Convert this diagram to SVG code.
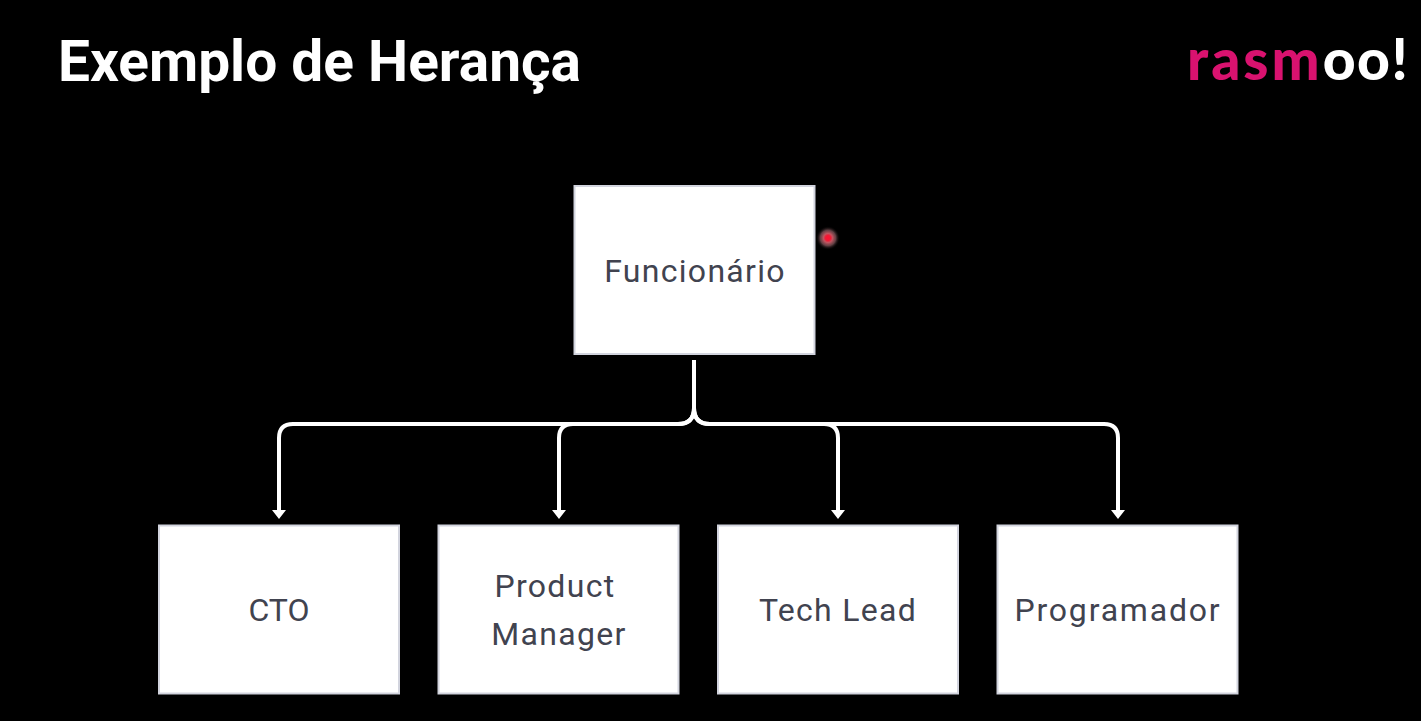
<svg xmlns="http://www.w3.org/2000/svg" width="1421" height="721" viewBox="0 0 1421 721">
<defs>
<style>
.box{fill:#fff;stroke:#d2d4de;stroke-width:2}
.lbl{font-family:Roboto,"Liberation Sans",sans-serif;font-size:32px;letter-spacing:1.3px;fill:#41434f;text-anchor:middle}
.conn{fill:none;stroke:#fff;stroke-width:4;stroke-linejoin:round}
</style>
<radialGradient id="glow"><stop offset="0" stop-color="#ff1030"/><stop offset="0.22" stop-color="#f01a35"/><stop offset="0.38" stop-color="#c05560"/><stop offset="0.65" stop-color="#7a5055" stop-opacity="0.8"/><stop offset="1" stop-color="#000" stop-opacity="0"/></radialGradient>
</defs>
<rect width="1421" height="721" fill="#000"/>
<text id="title" x="58" y="81" font-family="Roboto,'Liberation Sans',sans-serif" font-weight="700" font-size="56.800" fill="#fff">Exemplo de Herança</text>
<text id="logo" x="1187" y="80" font-family="Lato,'Liberation Sans',sans-serif" font-weight="900" font-size="57" letter-spacing="3" fill="#fff"><tspan fill="#d9126f">rasm</tspan><tspan letter-spacing="1.500">oo!</tspan></text>
<g id="connectors">
<path class="conn" d="M694 360V408Q694 424 678 424H293Q279 424 279 438V512"/>
<path class="conn" d="M694 408Q694 424 678 424H573Q559 424 559 438V512"/>
<path class="conn" d="M694 408Q694 424 710 424H824Q838 424 838 438V512"/>
<path class="conn" d="M694 408Q694 424 710 424H1104Q1118 424 1118 438V512"/>
<path d="M272 510H286L279 519Z M552 510H566L559 519Z M831 510H845L838 519Z M1111 510H1125L1118 519Z" fill="#fff"/>
</g>
<g id="funcionario"><rect class="box" x="574.500" y="186" width="240" height="168"/><text class="lbl" x="695" y="281.500">Funcionário</text></g>
<g id="cto"><rect class="box" x="159" y="525.500" width="240" height="168"/><text class="lbl" x="279" y="621" style="letter-spacing:0">CTO</text></g>
<g id="product-manager"><rect class="box" x="438.500" y="525.500" width="240" height="168"/><text class="lbl" x="555" y="597">Product</text><text class="lbl" x="559" y="645">Manager</text></g>
<g id="tech-lead"><rect class="box" x="718" y="525.500" width="240" height="168"/><text class="lbl" x="838" y="621">Tech Lead</text></g>
<g id="programador"><rect class="box" x="997.500" y="525.500" width="240" height="168"/><text class="lbl" x="1118" y="621" style="letter-spacing:1.8px">Programador</text></g>
<circle id="pointer" cx="828" cy="238" r="12" fill="url(#glow)"/>
</svg>
